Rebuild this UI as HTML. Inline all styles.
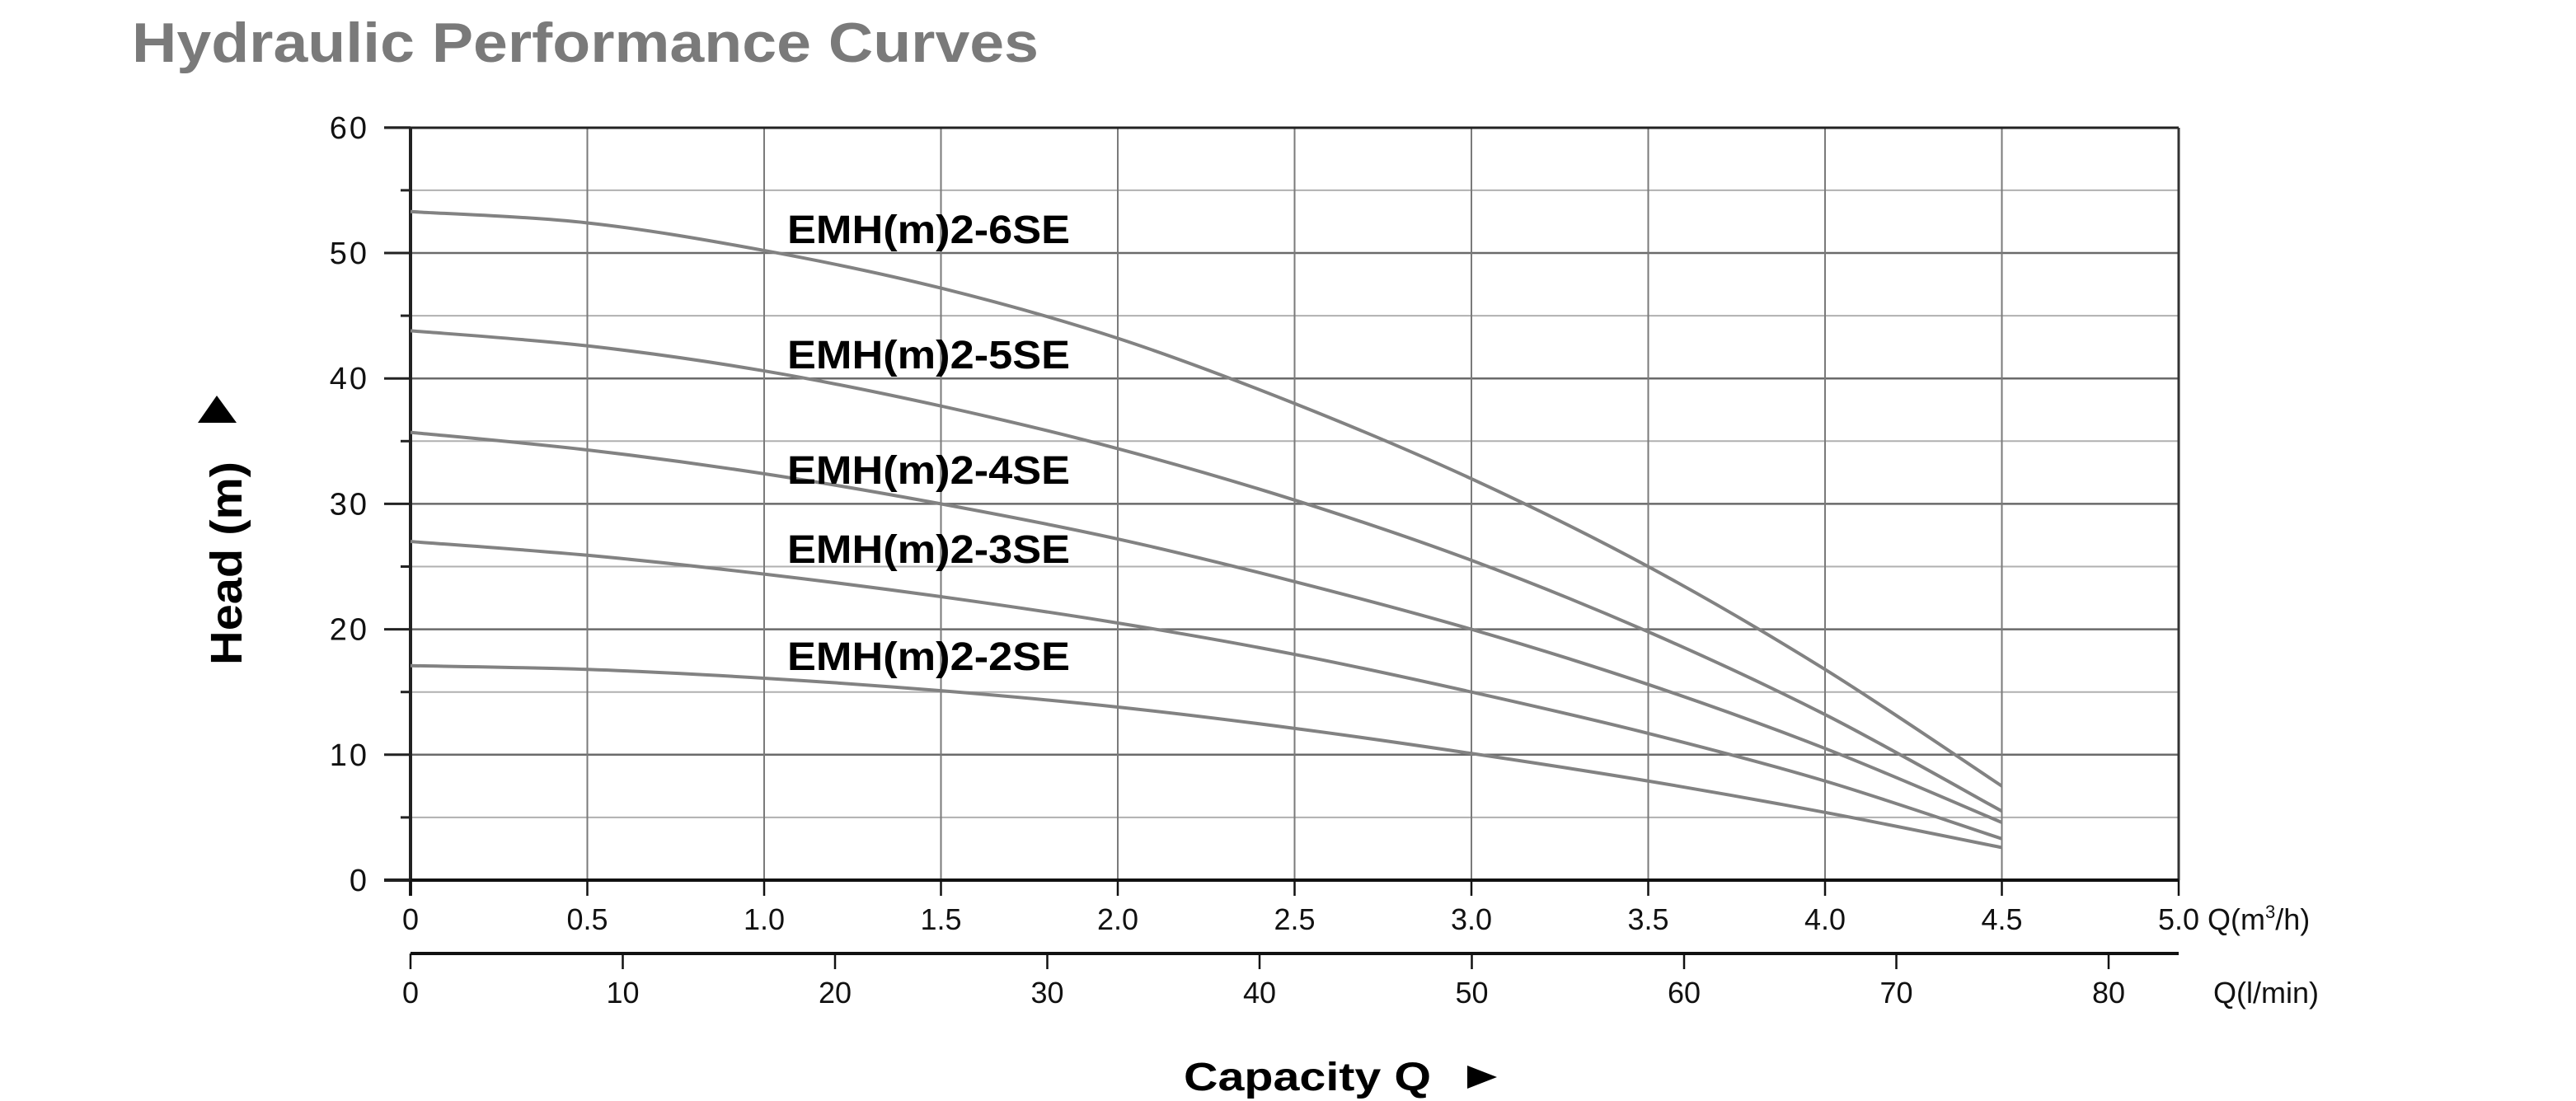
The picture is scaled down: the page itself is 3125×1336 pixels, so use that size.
<!DOCTYPE html>
<html><head><meta charset="utf-8"><style>
html,body{margin:0;padding:0;background:#fff;}
svg{display:block;}
</style></head><body>
<svg width="3125" height="1336" viewBox="0 0 3125 1336" xmlns="http://www.w3.org/2000/svg">
<rect width="3125" height="1336" fill="#fff"/>
<text x="160" y="75" font-family="Liberation Sans, sans-serif" font-weight="bold" font-size="68" fill="#7a7a7a" textLength="1100" lengthAdjust="spacingAndGlyphs">Hydraulic Performance Curves</text>
<g id="grid"></g>
<g id="curves" fill="none" stroke="#828282" stroke-width="4"></g>
<g font-family="Liberation Sans, sans-serif" font-weight="bold" font-size="48" fill="#000">
<text x="955" y="295" textLength="343" lengthAdjust="spacingAndGlyphs">EMH(m)2-6SE</text>
<text x="955" y="447" textLength="343" lengthAdjust="spacingAndGlyphs">EMH(m)2-5SE</text>
<text x="955" y="587" textLength="343" lengthAdjust="spacingAndGlyphs">EMH(m)2-4SE</text>
<text x="955" y="683" textLength="343" lengthAdjust="spacingAndGlyphs">EMH(m)2-3SE</text>
<text x="955" y="813" textLength="343" lengthAdjust="spacingAndGlyphs">EMH(m)2-2SE</text>
</g>
<text transform="translate(293,807) rotate(-90)" font-family="Liberation Sans, sans-serif" font-weight="bold" font-size="54" fill="#000" textLength="247" lengthAdjust="spacingAndGlyphs">Head (m)</text>
<polygon points="263,480 287,513 240,513" fill="#000"/>
<text x="1436" y="1323" font-family="Liberation Sans, sans-serif" font-weight="bold" font-size="48" fill="#000" textLength="300" lengthAdjust="spacingAndGlyphs">Capacity Q</text>
<polygon points="1780,1293 1816,1307 1780,1321" fill="#000"/>
</svg>
<script>
var NS="http://www.w3.org/2000/svg";
var X0=498,KX=429,Y0=1068,KY=15.22,XR=2643,YT=155;
function X(q){return X0+KX*q;}function Y(h){return Y0-KY*h;}
var g=document.getElementById('grid');
function el(t,a,p){var e=document.createElementNS(NS,t);for(var k in a)e.setAttribute(k,a[k]);(p||g).appendChild(e);return e;}
function txt(x,y,s,anchor,size){var e=el('text',{x:x,y:y,'text-anchor':anchor,'font-family':'Liberation Sans, sans-serif','font-size':size,fill:'#111'});e.textContent=s;return e;}
for(var h=5;h<=55;h+=5){var major=h%10==0;el('line',{x1:X0,x2:XR,y1:Y(h),y2:Y(h),stroke:major?'#6a6a6a':'#b0b0b0','stroke-width':major?2.5:2});}
for(var i=1;i<=9;i++){el('line',{x1:X(i*0.5),x2:X(i*0.5),y1:YT,y2:Y0,stroke:'#7a7a7a','stroke-width':2});}
el('line',{x1:466,x2:XR,y1:YT,y2:YT,stroke:'#222','stroke-width':3});
el('line',{x1:XR,x2:XR,y1:YT,y2:Y0,stroke:'#333','stroke-width':3});
el('line',{x1:X0,x2:X0,y1:YT,y2:Y0+19,stroke:'#222','stroke-width':4});
el('line',{x1:466,x2:XR,y1:Y0,y2:Y0,stroke:'#111','stroke-width':4});
for(var h=0;h<=60;h+=5){var major=h%10==0;el('line',{x1:major?466:486,x2:X0,y1:Y(h),y2:Y(h),stroke:'#222','stroke-width':3});
 if(major){var t0=txt(448,Y(h)+13,String(h),'end',38);t0.setAttribute('letter-spacing','3');}}
var xl=['0','0.5','1.0','1.5','2.0','2.5','3.0','3.5','4.0','4.5','5.0'];
for(var i=0;i<=10;i++){var x=X(i*0.5);el('line',{x1:x,x2:x,y1:Y0,y2:1087,stroke:'#111','stroke-width':2.5});
 if(i<10)txt(x,1128,xl[i],'middle',36);}
var t=txt(2618,1128,'','start',36);t.innerHTML='5.0 Q(m<tspan font-size="22" dy="-14">3</tspan><tspan dy="14">/h)</tspan>';
el('line',{x1:X0,x2:XR,y1:1157,y2:1157,stroke:'#111','stroke-width':4});
for(var v=0;v<=80;v+=10){var x=X0+v*25.75;el('line',{x1:x,x2:x,y1:1157,y2:1176,stroke:'#111','stroke-width':2.5});txt(x,1217,String(v),'middle',36);}
txt(2685,1217,'Q(l/min)','start',36);
var data=[
[53.3,52.4,50.2,47.2,43.2,38,32,25,16.8,7.5],
[43.8,42.6,40.6,37.8,34.4,30.3,25.5,19.8,13.2,5.5],
[35.7,34.3,32.4,30,27.2,23.8,20,15.6,10.5,4.6],
[27,25.9,24.4,22.6,20.5,18,15,11.7,7.9,3.3],
[17.1,16.8,16.1,15.1,13.8,12.1,10.1,7.9,5.4,2.6]];
var cg=document.getElementById('curves');
data.forEach(function(d){var p=d.map(function(h,i){return [X(i*0.5),Y(h)];});
 var s='M'+p[0][0]+','+p[0][1];
 for(var i=0;i<p.length-1;i++){var p0=p[Math.max(i-1,0)],p1=p[i],p2=p[i+1],p3=p[Math.min(i+2,p.length-1)];
  var c1=[p1[0]+(p2[0]-p0[0])/6,p1[1]+(p2[1]-p0[1])/6],c2=[p2[0]-(p3[0]-p1[0])/6,p2[1]-(p3[1]-p1[1])/6];
  s+=' C'+c1[0]+','+c1[1]+' '+c2[0]+','+c2[1]+' '+p2[0]+','+p2[1];}
 el('path',{d:s},cg);});
</script>
</body></html>
